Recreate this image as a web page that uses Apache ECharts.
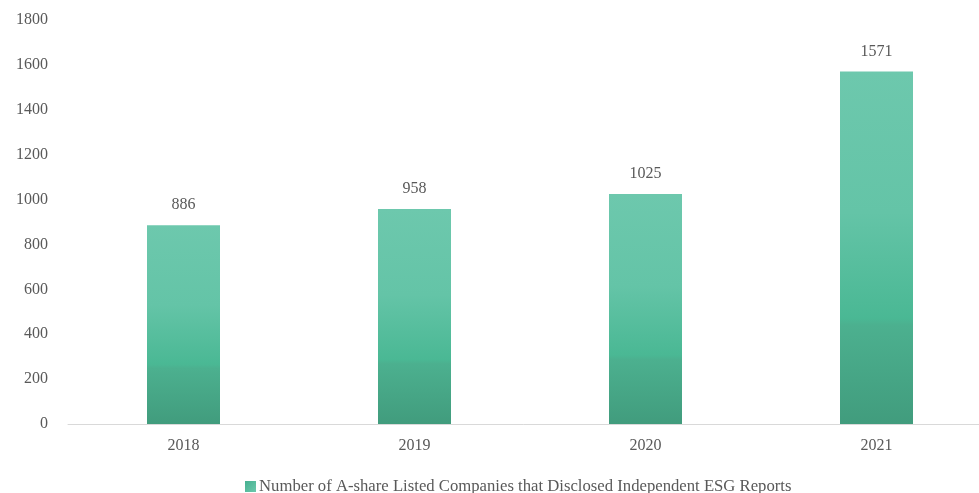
<!DOCTYPE html>
<html>
<head>
<meta charset="utf-8">
<script src="https://cdn.jsdelivr.net/npm/echarts@6/dist/echarts.min.js"></script>
<style>
  html, body { margin: 0; padding: 0; background: #fff; }
  #chart { width: 979px; height: 493px; }
</style>
</head>
<body>
<div id="chart"></div>
<script>
// Yearly counts of A-share listed companies publishing standalone ESG reports
const years = ['2018', '2019', '2020', '2021'];
const reportCounts = [886, 958, 1025, 1571];
const seriesName = 'Number of A-share Listed Companies that Disclosed Independent ESG Reports';
const yTicks = { min: 0, max: 1800, interval: 200 };

const font = '"Liberation Serif", "Times New Roman", serif';
const textColor = '#595959';

const barGradient = new echarts.graphic.LinearGradient(0, 0, 0, 1, [
  { offset: 0, color: '#6dc8ad' },
  { offset: 0.4, color: '#64c4a7' },
  { offset: 0.7, color: '#4ab894' },
  { offset: 0.72, color: '#4cb08f' },
  { offset: 1, color: '#419c7d' }
]);

const legendGradient = new echarts.graphic.LinearGradient(0, 0, 1, 1, [
  { offset: 0, color: '#45b090' },
  { offset: 1, color: '#6cc8ac' }
]);

const chart = echarts.init(document.getElementById('chart'), null, { renderer: 'canvas' });
chart.setOption({
  animation: false,
  backgroundColor: '#fff',
  textStyle: { fontFamily: font },
  grid: {
    left: 68, top: 20, bottom: 69, width: 924,
    containLabel: false, outerBoundsMode: 'none'
  },
  legend: {
    bottom: -7,
    left: 240,
    icon: 'rect',
    itemWidth: 11,
    itemHeight: 11,
    itemGap: 4,
    textStyle: { fontFamily: font, fontSize: 16.7, color: textColor, padding: [0, 0, 0, -2] },
    data: [{ name: seriesName, itemStyle: { color: legendGradient } }]
  },
  xAxis: {
    type: 'category',
    data: years,
    axisLine: { lineStyle: { color: '#d9d9d9', width: 1 } },
    axisTick: { show: false },
    axisLabel: { fontFamily: font, fontSize: 16, color: textColor, margin: 14 }
  },
  yAxis: {
    type: 'value',
    min: yTicks.min,
    max: yTicks.max,
    interval: yTicks.interval,
    axisLine: { show: false },
    axisTick: { show: false },
    splitLine: { show: false },
    axisLabel: {
      fontFamily: font, fontSize: 16, color: textColor, margin: 20,
      formatter: (v) => String(v)
    }
  },
  series: [{
    name: seriesName,
    type: 'bar',
    data: reportCounts,
    barWidth: 73,
    itemStyle: { color: barGradient },
    label: {
      show: true,
      position: 'top',
      distance: 12,
      fontFamily: font,
      fontSize: 16,
      color: textColor
    }
  }]
});
</script>
</body>
</html>
